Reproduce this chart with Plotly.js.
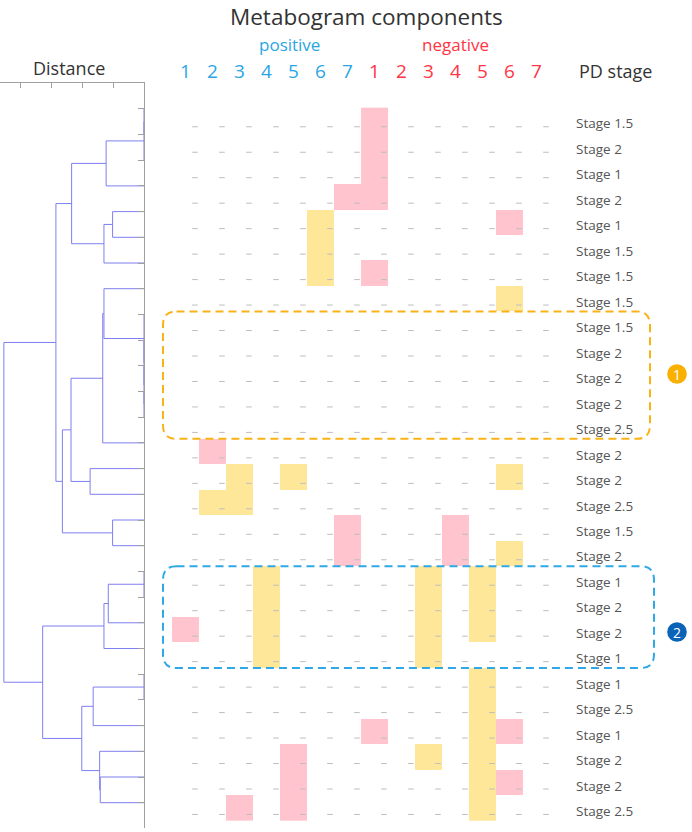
<!DOCTYPE html>
<html>
<head>
<meta charset="utf-8">
<script src="https://cdn.plot.ly/plotly-3.0.1.min.js"></script>
<style>html,body{margin:0;padding:0;background:#fff;}#chart{width:692px;height:832px;}</style>
</head>
<body>
<div id="chart"></div>
<script>
// ---------------- DATA ----------------
const componentNumbers = ['1','2','3','4','5','6','7','1','2','3','4','5','6','7'];
const componentSign = ['positive','positive','positive','positive','positive','positive','positive',
                       'negative','negative','negative','negative','negative','negative','negative'];
const pdStage = ['Stage 1.5','Stage 2','Stage 1','Stage 2','Stage 1','Stage 1.5','Stage 1.5','Stage 1.5',
  'Stage 1.5','Stage 2','Stage 2','Stage 2','Stage 2.5','Stage 2','Stage 2','Stage 2.5','Stage 1.5','Stage 2',
  'Stage 1','Stage 2','Stage 2','Stage 1','Stage 1','Stage 2.5','Stage 1','Stage 2','Stage 2','Stage 2.5'];
// 0 = none, 1 = pink, 2 = yellow
const metabogram = [
  [0,0,0,0,0,0,0,1,0,0,0,0,0,0],
  [0,0,0,0,0,0,0,1,0,0,0,0,0,0],
  [0,0,0,0,0,0,0,1,0,0,0,0,0,0],
  [0,0,0,0,0,0,1,1,0,0,0,0,0,0],
  [0,0,0,0,0,2,0,0,0,0,0,0,1,0],
  [0,0,0,0,0,2,0,0,0,0,0,0,0,0],
  [0,0,0,0,0,2,0,1,0,0,0,0,0,0],
  [0,0,0,0,0,0,0,0,0,0,0,0,2,0],
  [0,0,0,0,0,0,0,0,0,0,0,0,0,0],
  [0,0,0,0,0,0,0,0,0,0,0,0,0,0],
  [0,0,0,0,0,0,0,0,0,0,0,0,0,0],
  [0,0,0,0,0,0,0,0,0,0,0,0,0,0],
  [0,0,0,0,0,0,0,0,0,0,0,0,0,0],
  [0,1,0,0,0,0,0,0,0,0,0,0,0,0],
  [0,0,2,0,2,0,0,0,0,0,0,0,2,0],
  [0,2,2,0,0,0,0,0,0,0,0,0,0,0],
  [0,0,0,0,0,0,1,0,0,0,1,0,0,0],
  [0,0,0,0,0,0,1,0,0,0,1,0,2,0],
  [0,0,0,2,0,0,0,0,0,2,0,2,0,0],
  [0,0,0,2,0,0,0,0,0,2,0,2,0,0],
  [1,0,0,2,0,0,0,0,0,2,0,2,0,0],
  [0,0,0,2,0,0,0,0,0,2,0,0,0,0],
  [0,0,0,0,0,0,0,0,0,0,0,2,0,0],
  [0,0,0,0,0,0,0,0,0,0,0,2,0,0],
  [0,0,0,0,0,0,0,1,0,0,0,2,1,0],
  [0,0,0,0,1,0,0,0,0,2,0,2,0,0],
  [0,0,0,0,1,0,0,0,0,0,0,2,1,0],
  [0,0,1,0,1,0,0,0,0,0,0,2,0,0]
];
// Dendrogram linkage: [childA, childB, distance]; leaves 0..27, merged nodes numbered 28, 29, ...
const linkage = [
  [0, 1, 0], [28, 2, 0], [29, 3, 1.23],          // 28,29,30
  [4, 5, 1.02], [31, 6, 1.30], [30, 32, 2.35],    // 31,32,33
  [11, 12, 0], [10, 34, 0], [9, 35, 0], [8, 36, 0], // 34..37
  [7, 37, 1.30], [38, 13, 1.34],                  // 38,39
  [14, 15, 1.75], [39, 40, 2.37],                 // 40,41
  [16, 17, 1.02], [41, 42, 2.65], [33, 43, 2.86], // 42,43,44
  [18, 19, 0], [45, 20, 1.16], [46, 21, 1.30],    // 45,46,47
  [22, 23, 0], [48, 24, 1.65],                    // 48,49
  [26, 27, 1.42], [25, 50, 1.44], [49, 51, 2.02], // 50,51,52
  [47, 52, 3.29], [44, 53, 4.55]                  // 53,54
];
const distanceTicks = [0, 1, 2, 3, 4];
const clusterRows = [[8, 12], [18, 21]];
const clusterLabels = ['1', '2'];

// ---------------- LAYOUT GEOMETRY ----------------
const W = 692, H = 832;
const FONT = '"Open Sans", "DejaVu Sans", sans-serif';
const col0Px = 185.5, colPitch = 27, row0Px = 120.4, rowPitch = 25.47;
const leaf0Px = 108.8, leafPitch = 25.7, dendTop = 83, dendBottom = 828, d0Px = 144, distPx = 30.8;
const blue = '#2ba6e4', red = '#ff3545', textDark = '#333333', textGray = '#555555';
const pink = '#ffc4ce', yellow = '#ffe79a';
const clusterColors = ['#fbb216', '#2ea8e6'];
const badgeColors = ['#f9b000', '#0b63b8'];
const badgeCenterPx = [[677, 374], [677, 632]];
const badgeRadiusPx = 9.8;

const px2x = p => (p - col0Px) / colPitch;
const py2y = p => (p - row0Px) / rowPitch;
const pxPaper = p => p / W;
const pyPaper = p => 1 - p / H;

const colIdx = componentNumbers.map((_, i) => i);
const rowIdx = pdStage.map((_, i) => i);

// heatmap
const z = metabogram.map(r => r.map(v => v === 0 ? null : v));
const traces = [];
traces.push({
  type: 'heatmap', x: colIdx, y: rowIdx, z: z, zmin: 1, zmax: 2,
  colorscale: [[0, pink], [0.5, pink], [0.5, yellow], [1, yellow]],
  showscale: false, hoverinfo: 'skip', xaxis: 'x', yaxis: 'y'
});
// small dashes of the grid
const dx = [], dy = [];
rowIdx.forEach(r => colIdx.forEach(c => { dx.push(c + 0.35); dy.push(r + 0.25); }));
traces.push({
  type: 'scatter', mode: 'markers', x: dx, y: dy, xaxis: 'x', yaxis: 'y', hoverinfo: 'skip',
  marker: { symbol: 'line-ew', size: 4, line: { width: 1, color: '#bdbdbd' } }
});

// dendrogram
const pos = rowIdx.slice(), hgt = rowIdx.map(() => 0);
const lx = [], ly = [];
linkage.forEach(([a, b, h]) => {
  lx.push(hgt[a], h, h, hgt[b], null);
  ly.push(pos[a], pos[a], pos[b], pos[b], null);
  pos.push((pos[a] + pos[b]) / 2); hgt.push(h);
});
traces.push({
  type: 'scatter', mode: 'lines', x: lx, y: ly, xaxis: 'x2', yaxis: 'y2', hoverinfo: 'skip',
  line: { color: '#7f7ff0', width: 1 }
});

// shapes: rounded dashed boxes
const shapes = clusterRows.map(([r0, r1], i) => {
  const x0 = px2x(163), x1 = px2x(i === 0 ? 650 : 654);
  const y0 = r0 - 0.5, y1 = r1 + 0.5;
  const rx = 0.5, ry = 0.53;
  const path = `M ${x0 + rx},${y0} L ${x1 - rx},${y0} Q ${x1},${y0} ${x1},${y0 + ry} L ${x1},${y1 - ry} Q ${x1},${y1} ${x1 - rx},${y1} L ${x0 + rx},${y1} Q ${x0},${y1} ${x0},${y1 - ry} L ${x0},${y0 + ry} Q ${x0},${y0} ${x0 + rx},${y0} Z`;
  return { type: 'path', path: path, xref: 'x', yref: 'y', layer: 'above',
    line: { color: clusterColors[i], width: 2, dash: '8px,5px' } };
});
// badges (filled circles)
badgeCenterPx.forEach(([cx, cy], i) => shapes.push({
  type: 'circle', xref: 'paper', yref: 'paper', layer: 'above',
  x0: pxPaper(cx - badgeRadiusPx), x1: pxPaper(cx + badgeRadiusPx),
  y0: pyPaper(cy + badgeRadiusPx), y1: pyPaper(cy - badgeRadiusPx),
  fillcolor: badgeColors[i], line: { width: 0 }
}));

// annotations
const ann = [];
ann.push({ text: 'Metabogram components', xref: 'paper', yref: 'paper', x: pxPaper(366), y: pyPaper(16),
  showarrow: false, xanchor: 'center', yanchor: 'middle', font: { family: FONT, size: 22.5, color: textDark } });
ann.push({ text: 'Distance', xref: 'paper', yref: 'paper', x: pxPaper(68.5), y: pyPaper(68),
  showarrow: false, xanchor: 'center', yanchor: 'middle', font: { family: FONT, size: 18, color: textDark } });
ann.push({ text: 'PD stage', xref: 'paper', yref: 'paper', x: pxPaper(615), y: pyPaper(71),
  showarrow: false, xanchor: 'center', yanchor: 'middle', font: { family: FONT, size: 18, color: textDark } });
ann.push({ text: 'positive', xref: 'paper', yref: 'paper', x: pxPaper(289), y: pyPaper(44),
  showarrow: false, xanchor: 'center', yanchor: 'middle', font: { family: FONT, size: 17, color: blue } });
ann.push({ text: 'negative', xref: 'paper', yref: 'paper', x: pxPaper(455.7), y: pyPaper(44),
  showarrow: false, xanchor: 'center', yanchor: 'middle', font: { family: FONT, size: 17, color: red } });
componentNumbers.forEach((t, c) => ann.push({ text: t, xref: 'x', yref: 'paper', x: c, y: pyPaper(71),
  showarrow: false, xanchor: 'center', yanchor: 'middle',
  font: { family: FONT, size: 19, color: componentSign[c] === 'positive' ? blue : red } }));
pdStage.forEach((t, r) => ann.push({ text: t, xref: 'x', yref: 'y', x: px2x(574), y: r + 0.12,
  showarrow: false, xanchor: 'left', yanchor: 'middle', font: { family: FONT, size: 13.5, color: textGray } }));
clusterLabels.forEach((t, i) => ann.push({ text: t, xref: 'paper', yref: 'paper',
  x: pxPaper(badgeCenterPx[i][0]), y: pyPaper(badgeCenterPx[i][1]), showarrow: false,
  xanchor: 'center', yanchor: 'middle', font: { family: FONT, size: 14, color: '#ffffff' } }));

const layout = {
  width: W, height: H, margin: { l: 0, r: 0, t: 0, b: 0, pad: 0 },
  paper_bgcolor: '#ffffff', plot_bgcolor: 'rgba(0,0,0,0)', showlegend: false, hovermode: false,
  xaxis: { domain: [0, 1], range: [px2x(0), px2x(W)], visible: false, fixedrange: true },
  yaxis: { domain: [0, 1], range: [py2y(H), py2y(0)], visible: false, fixedrange: true },
  xaxis2: { domain: [0, d0Px / W], range: [d0Px / distPx, 0], anchor: 'y2', side: 'top',
    showline: true, linecolor: '#a0a0a0', linewidth: 1, ticks: 'inside', ticklen: 5, tickwidth: 1,
    tickcolor: '#a0a0a0', tickvals: distanceTicks, showticklabels: false, showgrid: false, zeroline: false },
  yaxis2: { domain: [pyPaper(dendBottom), pyPaper(dendTop)],
    range: [(dendBottom - leaf0Px) / leafPitch, (dendTop - leaf0Px) / leafPitch], anchor: 'x2', side: 'right',
    showline: true, linecolor: '#a0a0a0', linewidth: 1, ticks: 'inside', ticklen: 6, tickwidth: 1,
    tickcolor: '#a0a0a0', tickvals: rowIdx, showticklabels: false, showgrid: false, zeroline: false },
  shapes: shapes, annotations: ann
};
Plotly.newPlot('chart', traces, layout, { staticPlot: true, displayModeBar: false });
</script>
</body>
</html>
